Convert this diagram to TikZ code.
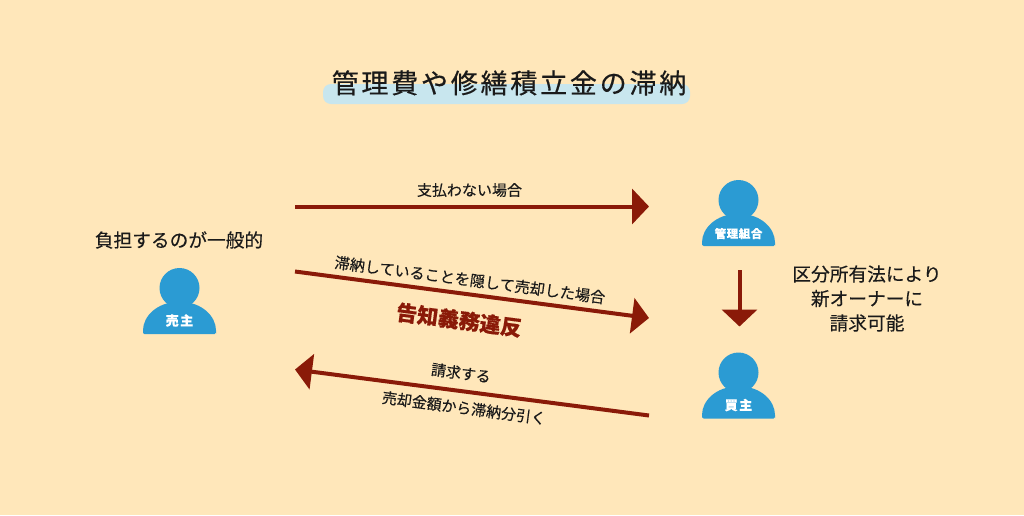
\documentclass[tikz,border=0pt]{standalone}
\usepackage{fontspec}
\usetikzlibrary{arrows.meta}
\setmainfont{Noto Sans CJK JP}[FakeBold=0.25]
\newfontfamily\medfont{Noto Sans CJK JP}[FakeBold=0.45]
\definecolor{bgc}{HTML}{FFE7BA}
\definecolor{blu}{HTML}{2B9BD3}
\definecolor{hl}{HTML}{C8E6EE}
\definecolor{arr}{HTML}{8A1A08}
\definecolor{ink}{HTML}{1A1A1A}
\tikzset{
  conn/.style={draw=arr,line width=4pt,-{Triangle[length=17pt,width=35pt]}},
  lab/.style={text=ink,font=\fontsize{#1}{24.5}\selectfont,inner sep=0pt,align=center},
  lab/.default=15,
  who/.style={text=white,font=\bfseries\fontsize{#1}{#1}\selectfont,inner sep=0pt},
  pics/person/.style={code={
    \fill[blu] (0,0) circle (20);
    \fill[blu,rounded corners=1.5pt] (-36.5,46) -- (-36.5,44) .. controls (-36.5,28) and (-22,14) .. (0,14)
      .. controls (22,14) and (36.5,28) .. (36.5,44) -- (36.5,46) -- cycle;
  }}
}
\begin{document}
\begin{tikzpicture}[x=1pt,y=-1pt]
\useasboundingbox (0,0) rectangle (1024,515);
\fill[bgc] (0,0) rectangle (1024,515);
\fill[hl,rounded corners=8pt] (323,84) rectangle (690,104);
\node[text=ink,inner sep=0pt,font=\medfont\fontsize{27}{27}\selectfont] (title) at (509,83) {\addfontfeature{LetterSpace=10.3}管理費や修繕積立金の滞納};

\pic at (179.5,288) {person};
\pic at (738.5,200) {person};
\pic at (738.5,372.5) {person};
\node[who=13] (seller) at (179.5,320.5) {\addfontfeature{LetterSpace=12}売主};
\node[who=11.5] (kanri) at (738.5,233.5) {\addfontfeature{LetterSpace=5}管理組合};
\node[who=13] (buyer) at (738.5,405) {\addfontfeature{LetterSpace=12}買主};

\node[lab=18.7] (burden) at (179,240) {負担するのが一般的};
\node[lab=18.7] (law) at (867,298.5) {区分所有法により\\新オーナーに\\請求可能};

\coordinate (a1s) at (295,206.5);
\coordinate (a1e) at (649,206.5);
\coordinate (a2s) at (295,271.5);
\coordinate (a2e) at (649,318);
\coordinate (a3s) at (649,415.5);
\coordinate (a3e) at (295,369.5);
\coordinate (a4s) at (739.5,270);
\coordinate (a4e) at (739.5,326.5);
\draw[conn] (a1s) -- (a1e);
\draw[conn] (a2s) -- (a2e);
\draw[conn] (a3s) -- (a3e);
\draw[conn] (a4s) -- (a4e);

\node[lab=15] (l1) at (469.5,190) {支払わない場合};
\node[lab=15.2,rotate=-7.5] (l2) at (470,280) {滞納していることを隠して売却した場合};
\node[text=arr,font=\bfseries\fontsize{21}{21}\selectfont,inner sep=0pt,rotate=-7.5] (l3) at (459,320) {告知義務違反};
\node[lab=15,rotate=-7.5] (l4) at (461,373) {請求する};
\node[lab=15,rotate=-7.5] (l5) at (464,408) {売却金額から滞納分引く};
\end{tikzpicture}
\end{document}
